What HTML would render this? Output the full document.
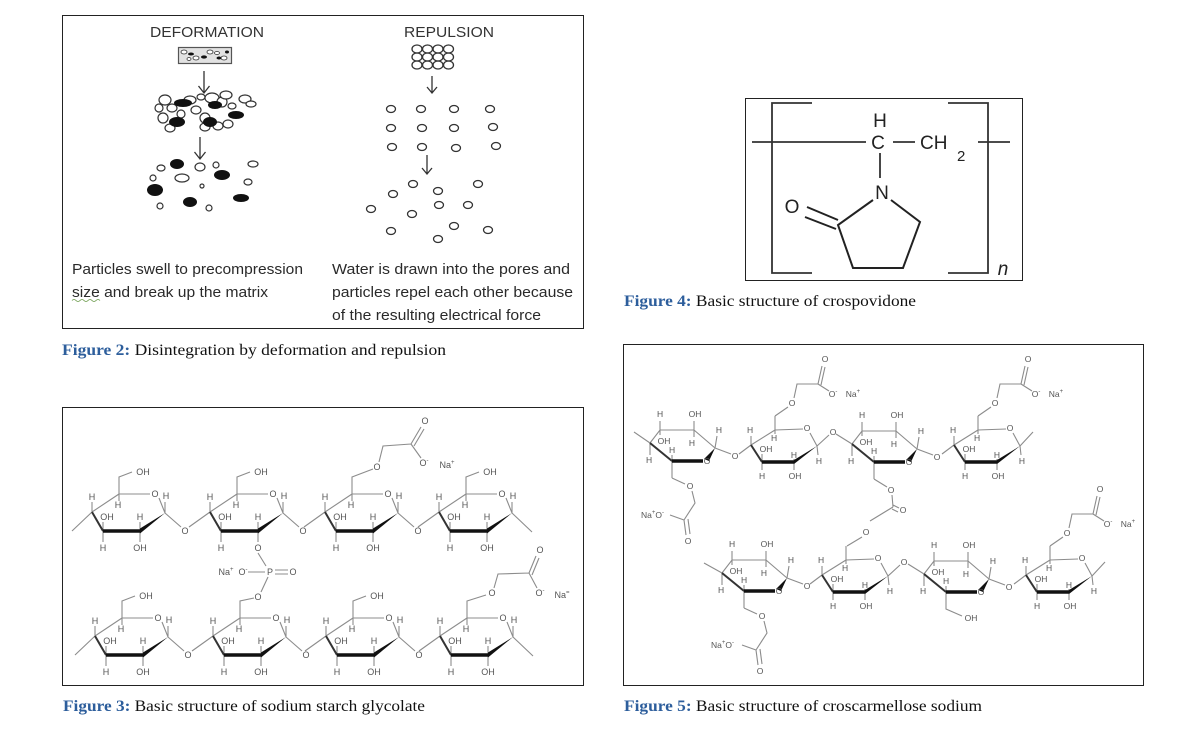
<!DOCTYPE html>
<html><head><meta charset="utf-8"><style>
html,body{margin:0;padding:0;background:#fff;}
svg{display:block;}
.l{stroke:#8c8c8c;stroke-width:1.1;fill:none;}
.b{stroke:#111;stroke-width:3.4;fill:none;}
.b2{stroke:#333;stroke-width:2;fill:none;}
.t{font-family:"Liberation Sans",sans-serif;font-size:9px;fill:#555;text-anchor:middle;}
.f{font-family:"Liberation Sans",sans-serif;font-size:8.5px;fill:#555;text-anchor:middle;}
.s{text-anchor:start;}
.k{stroke:#222;stroke-width:2;fill:none;}
.br{stroke:#333;stroke-width:1.8;fill:none;}
.c{font-family:"Liberation Serif",serif;font-size:15.5px;fill:#111;}
.cb{fill:#2d5e9c;font-weight:bold;}
.bt{font-family:"Liberation Sans",sans-serif;font-size:15px;fill:#2a2a2a;}
.ar{stroke:#333;stroke-width:1.3;fill:none;}
.po{stroke:#333;stroke-width:1.2;fill:#fff;}
.pb{fill:#111;}
.rc{stroke:#333;stroke-width:1.3;fill:none;}
</style></head><body>
<svg width="1183" height="741" viewBox="0 0 1183 741" xmlns="http://www.w3.org/2000/svg">
<!-- ================= FIGURE 2 ================= -->
<rect x="62.5" y="15.5" width="521" height="313" fill="#fff" stroke="#222" stroke-width="1"/>
<text class="bt" x="150" y="37" textLength="114" lengthAdjust="spacingAndGlyphs" style="fill:#333">DEFORMATION</text>
<text class="bt" x="404" y="37" textLength="90" lengthAdjust="spacingAndGlyphs" style="fill:#333">REPULSION</text>
<!-- tablet -->
<rect x="178.5" y="47.5" width="53" height="16" fill="#e2e2e2" stroke="#555" stroke-width="1.2"/>
<g stroke="#333" stroke-width="0.8" fill="#fff">
<ellipse cx="184" cy="52" rx="3" ry="2"/><ellipse cx="196" cy="58" rx="3" ry="2"/><ellipse cx="210" cy="52" rx="3" ry="2"/><ellipse cx="224" cy="58" rx="3" ry="2"/><ellipse cx="189" cy="59" rx="2" ry="1.5"/><ellipse cx="217" cy="53" rx="2.5" ry="1.5"/>
</g>
<g fill="#111"><ellipse cx="191" cy="54" rx="3" ry="1.5"/><ellipse cx="204" cy="57" rx="3" ry="1.6"/><ellipse cx="219" cy="58" rx="2.5" ry="1.5"/><ellipse cx="227" cy="52" rx="2" ry="1.5"/></g>
<!-- arrows deformation -->
<path class="ar" d="M204,71V93M198.5,86L204,93L209.5,86"/>
<path class="ar" d="M200,137V159M194.5,152L200,159L205.5,152"/>
<!-- cluster -->
<g class="po">
<ellipse cx="165" cy="100" rx="6" ry="5"/><ellipse cx="172" cy="108" rx="5" ry="4"/><ellipse cx="163" cy="118" rx="5" ry="5"/><ellipse cx="170" cy="128" rx="5" ry="4"/><ellipse cx="181" cy="114" rx="4" ry="4"/><ellipse cx="190" cy="100" rx="6" ry="4"/><ellipse cx="196" cy="110" rx="5" ry="4"/><ellipse cx="201" cy="97" rx="4" ry="3"/><ellipse cx="205" cy="118" rx="5" ry="5"/><ellipse cx="212" cy="98" rx="7" ry="5"/><ellipse cx="222" cy="102" rx="5" ry="5"/><ellipse cx="218" cy="126" rx="5" ry="4"/><ellipse cx="228" cy="124" rx="5" ry="4"/><ellipse cx="232" cy="106" rx="4" ry="3"/><ellipse cx="245" cy="99" rx="6" ry="4"/><ellipse cx="251" cy="104" rx="5" ry="3"/><ellipse cx="226" cy="95" rx="6" ry="4"/><ellipse cx="205" cy="127" rx="5" ry="4"/><ellipse cx="159" cy="108" rx="4" ry="4"/>
</g>
<g class="pb">
<ellipse cx="183" cy="103" rx="9" ry="4"/><ellipse cx="215" cy="105" rx="7" ry="4"/><ellipse cx="177" cy="122" rx="8" ry="5"/><ellipse cx="210" cy="122" rx="7" ry="5"/><ellipse cx="236" cy="115" rx="8" ry="4"/>
</g>
<!-- scattered -->
<g class="pb">
<ellipse cx="177" cy="164" rx="7" ry="5"/><ellipse cx="222" cy="175" rx="8" ry="5"/><ellipse cx="155" cy="190" rx="8" ry="6"/><ellipse cx="190" cy="202" rx="7" ry="5"/><ellipse cx="241" cy="198" rx="8" ry="4"/>
</g>
<g class="po">
<ellipse cx="161" cy="168" rx="4" ry="3"/><ellipse cx="200" cy="167" rx="5" ry="4"/><ellipse cx="216" cy="165" rx="3" ry="3"/><ellipse cx="253" cy="164" rx="5" ry="3"/><ellipse cx="153" cy="178" rx="3" ry="3"/><ellipse cx="182" cy="178" rx="7" ry="4"/><ellipse cx="248" cy="182" rx="4" ry="3"/><ellipse cx="202" cy="186" rx="2" ry="2"/><ellipse cx="160" cy="206" rx="3" ry="3"/><ellipse cx="209" cy="208" rx="3" ry="3"/>
</g>
<!-- repulsion -->
<g class="rc">
<ellipse cx="417" cy="49" rx="5" ry="4"/><ellipse cx="427.5" cy="49" rx="5" ry="4"/><ellipse cx="438" cy="49" rx="5" ry="4"/><ellipse cx="448.5" cy="49" rx="5" ry="4"/>
<ellipse cx="417" cy="57" rx="5" ry="4"/><ellipse cx="427.5" cy="57" rx="5" ry="4"/><ellipse cx="438" cy="57" rx="5" ry="4"/><ellipse cx="448.5" cy="57" rx="5" ry="4"/>
<ellipse cx="417" cy="65" rx="5" ry="4"/><ellipse cx="427.5" cy="65" rx="5" ry="4"/><ellipse cx="438" cy="65" rx="5" ry="4"/><ellipse cx="448.5" cy="65" rx="5" ry="4"/>
</g>
<path class="ar" d="M432,76V93M427,87L432,93L437,87"/>
<g class="rc">
<ellipse cx="391" cy="109" rx="4.5" ry="3.5"/><ellipse cx="421" cy="109" rx="4.5" ry="3.5"/><ellipse cx="454" cy="109" rx="4.5" ry="3.5"/><ellipse cx="490" cy="109" rx="4.5" ry="3.5"/>
<ellipse cx="391" cy="128" rx="4.5" ry="3.5"/><ellipse cx="422" cy="128" rx="4.5" ry="3.5"/><ellipse cx="454" cy="128" rx="4.5" ry="3.5"/><ellipse cx="493" cy="127" rx="4.5" ry="3.5"/>
<ellipse cx="392" cy="147" rx="4.5" ry="3.5"/><ellipse cx="422" cy="147" rx="4.5" ry="3.5"/><ellipse cx="456" cy="148" rx="4.5" ry="3.5"/><ellipse cx="496" cy="146" rx="4.5" ry="3.5"/>
</g>
<path class="ar" d="M427,155V174M422,168L427,174L432,168"/>
<g class="rc">
<ellipse cx="413" cy="184" rx="4.5" ry="3.5"/><ellipse cx="393" cy="194" rx="4.5" ry="3.5"/><ellipse cx="438" cy="191" rx="4.5" ry="3.5"/><ellipse cx="478" cy="184" rx="4.5" ry="3.5"/><ellipse cx="371" cy="209" rx="4.5" ry="3.5"/><ellipse cx="412" cy="214" rx="4.5" ry="3.5"/><ellipse cx="439" cy="205" rx="4.5" ry="3.5"/><ellipse cx="468" cy="205" rx="4.5" ry="3.5"/><ellipse cx="391" cy="231" rx="4.5" ry="3.5"/><ellipse cx="454" cy="226" rx="4.5" ry="3.5"/><ellipse cx="488" cy="230" rx="4.5" ry="3.5"/><ellipse cx="438" cy="239" rx="4.5" ry="3.5"/>
</g>
<text class="bt" x="72" y="274" textLength="231" lengthAdjust="spacingAndGlyphs">Particles swell to precompression</text>
<text class="bt" x="72" y="297" textLength="196" lengthAdjust="spacingAndGlyphs">size and break up the matrix</text>
<path d="M72,300.5Q74,298.5 76,300.5T80,300.5T84,300.5T88,300.5T92,300.5T96,300.5T100,300.5" stroke="#6a9a4a" stroke-width="0.8" fill="none"/>
<text class="bt" x="332" y="274" textLength="238" lengthAdjust="spacingAndGlyphs">Water is drawn into the pores and</text>
<text class="bt" x="332" y="297" textLength="241" lengthAdjust="spacingAndGlyphs">particles repel each other because</text>
<text class="bt" x="332" y="320" textLength="209" lengthAdjust="spacingAndGlyphs">of the resulting electrical force</text>
<text class="c" x="62" y="355" textLength="384" lengthAdjust="spacingAndGlyphs"><tspan class="cb">Figure 2:</tspan> Disintegration by deformation and repulsion</text>

<!-- ================= FIGURE 4 ================= -->
<rect x="745.5" y="98.5" width="277" height="182" fill="#fff" stroke="#222" stroke-width="1"/>
<path class="br" d="M812,103H772V273H812M948,103H988V273H948"/>
<path class="br" d="M752,142H866M893,142H915M978,142H1010M880,153V178"/>
<g font-family="Liberation Sans, sans-serif" font-size="19" fill="#222">
<text x="880" y="127" text-anchor="middle">H</text>
<text x="878" y="149" text-anchor="middle">C</text>
<text x="920" y="149">CH</text>
<text x="957" y="161" font-size="15">2</text>
<text x="882" y="199" text-anchor="middle">N</text>
<text x="792" y="213" text-anchor="middle">O</text>
<text x="1003" y="275" text-anchor="middle" font-style="italic">n</text>
</g>
<path class="k" d="M873,200L838,225L853,268H903L920,222L891,200M807,207L838,220M805,217L836,229"/>
<text class="c" x="624" y="306" textLength="292" lengthAdjust="spacingAndGlyphs"><tspan class="cb">Figure 4:</tspan> Basic structure of crospovidone</text>

<!-- ================= FIGURE 3 ================= -->
<rect x="62.5" y="407.5" width="521" height="278" fill="#fff" stroke="#222" stroke-width="1"/>
<!-- T1 -->
<g transform="translate(119,494)">
<path class="l" d="M0,0H31M40,4L46,19M0,0L-27,18M-27,18V8M0,0V7M-16,37V28M-16,37V48M21,37V28M21,37V48M46,19V8M-27,18L-47,37M46,19L62,33M0,0V-17L13,-22"/>
<path class="b2" d="M-27,18L-16,37"/><path class="b" d="M-16,37H21"/><polygon points="46,19 21,34.5 21,39.5" fill="#111"/>
<text class="t" x="36" y="3">O</text><text class="t" x="-27" y="6">H</text><text class="t" x="-1" y="14">H</text><text class="t" x="-12" y="26">OH</text><text class="t" x="-16" y="57">H</text><text class="t" x="21" y="26">H</text><text class="t" x="21" y="57">OH</text><text class="t" x="47" y="5">H</text><text class="t" x="66" y="40">O</text><text class="t" x="24" y="-19">OH</text>
</g>
<!-- T2 -->
<g transform="translate(237,494)">
<path class="l" d="M0,0H31M40,4L46,19M0,0L-27,18M-27,18V8M0,0V7M-16,37V28M-16,37V48M21,37V28M21,37V48M46,19V8M-27,18L-48,33M46,19L62,33M0,0V-17L13,-22"/>
<path class="b2" d="M-27,18L-16,37"/><path class="b" d="M-16,37H21"/><polygon points="46,19 21,34.5 21,39.5" fill="#111"/>
<text class="t" x="36" y="3">O</text><text class="t" x="-27" y="6">H</text><text class="t" x="-1" y="14">H</text><text class="t" x="-12" y="26">OH</text><text class="t" x="-16" y="57">H</text><text class="t" x="21" y="26">H</text><text class="t" x="21" y="57">O</text><text class="t" x="47" y="5">H</text><text class="t" x="66" y="40">O</text><text class="t" x="24" y="-19">OH</text>
</g>
<!-- T3 -->
<g transform="translate(352,494)">
<path class="l" d="M0,0H31M40,4L46,19M0,0L-27,18M-27,18V8M0,0V7M-16,37V28M-16,37V48M21,37V28M21,37V48M46,19V8M-27,18L-48,33M46,19L62,33M0,0V-17L21,-25"/>
<path class="b2" d="M-27,18L-16,37"/><path class="b" d="M-16,37H21"/><polygon points="46,19 21,34.5 21,39.5" fill="#111"/>
<text class="t" x="36" y="3">O</text><text class="t" x="-27" y="6">H</text><text class="t" x="-1" y="14">H</text><text class="t" x="-12" y="26">OH</text><text class="t" x="-16" y="57">H</text><text class="t" x="21" y="26">H</text><text class="t" x="21" y="57">OH</text><text class="t" x="47" y="5">H</text><text class="t" x="66" y="40">O</text>
</g>
<!-- T4 -->
<g transform="translate(466,494)">
<path class="l" d="M0,0H31M40,4L46,19M0,0L-27,18M-27,18V8M0,0V7M-16,37V28M-16,37V48M21,37V28M21,37V48M46,19V8M-27,18L-48,33M46,19L66,38M0,0V-17L13,-22"/>
<path class="b2" d="M-27,18L-16,37"/><path class="b" d="M-16,37H21"/><polygon points="46,19 21,34.5 21,39.5" fill="#111"/>
<text class="t" x="36" y="3">O</text><text class="t" x="-27" y="6">H</text><text class="t" x="-1" y="14">H</text><text class="t" x="-12" y="26">OH</text><text class="t" x="-16" y="57">H</text><text class="t" x="21" y="26">H</text><text class="t" x="21" y="57">OH</text><text class="t" x="47" y="5">H</text><text class="t" x="24" y="-19">OH</text>
</g>
<!-- B1 -->
<g transform="translate(122,618)">
<path class="l" d="M0,0H31M40,4L46,19M0,0L-27,18M-27,18V8M0,0V7M-16,37V28M-16,37V48M21,37V28M21,37V48M46,19V8M-27,18L-47,37M46,19L62,33M0,0V-17L13,-22"/>
<path class="b2" d="M-27,18L-16,37"/><path class="b" d="M-16,37H21"/><polygon points="46,19 21,34.5 21,39.5" fill="#111"/>
<text class="t" x="36" y="3">O</text><text class="t" x="-27" y="6">H</text><text class="t" x="-1" y="14">H</text><text class="t" x="-12" y="26">OH</text><text class="t" x="-16" y="57">H</text><text class="t" x="21" y="26">H</text><text class="t" x="21" y="57">OH</text><text class="t" x="47" y="5">H</text><text class="t" x="66" y="40">O</text><text class="t" x="24" y="-19">OH</text>
</g>
<!-- B2 -->
<g transform="translate(240,618)">
<path class="l" d="M0,0H31M40,4L46,19M0,0L-27,18M-27,18V8M0,0V7M-16,37V28M-16,37V48M21,37V28M21,37V48M46,19V8M-27,18L-48,33M46,19L62,33M0,0V-17L14,-20"/>
<path class="b2" d="M-27,18L-16,37"/><path class="b" d="M-16,37H21"/><polygon points="46,19 21,34.5 21,39.5" fill="#111"/>
<text class="t" x="36" y="3">O</text><text class="t" x="-27" y="6">H</text><text class="t" x="-1" y="14">H</text><text class="t" x="-12" y="26">OH</text><text class="t" x="-16" y="57">H</text><text class="t" x="21" y="26">H</text><text class="t" x="21" y="57">OH</text><text class="t" x="47" y="5">H</text><text class="t" x="66" y="40">O</text>
</g>
<!-- B3 -->
<g transform="translate(353,618)">
<path class="l" d="M0,0H31M40,4L46,19M0,0L-27,18M-27,18V8M0,0V7M-16,37V28M-16,37V48M21,37V28M21,37V48M46,19V8M-27,18L-48,33M46,19L62,33M0,0V-17L13,-22"/>
<path class="b2" d="M-27,18L-16,37"/><path class="b" d="M-16,37H21"/><polygon points="46,19 21,34.5 21,39.5" fill="#111"/>
<text class="t" x="36" y="3">O</text><text class="t" x="-27" y="6">H</text><text class="t" x="-1" y="14">H</text><text class="t" x="-12" y="26">OH</text><text class="t" x="-16" y="57">H</text><text class="t" x="21" y="26">H</text><text class="t" x="21" y="57">OH</text><text class="t" x="47" y="5">H</text><text class="t" x="66" y="40">O</text><text class="t" x="24" y="-19">OH</text>
</g>
<!-- B4 -->
<g transform="translate(467,618)">
<path class="l" d="M0,0H31M40,4L46,19M0,0L-27,18M-27,18V8M0,0V7M-16,37V28M-16,37V48M21,37V28M21,37V48M46,19V8M-27,18L-48,33M46,19L66,38M0,0V-17L19,-23"/>
<path class="b2" d="M-27,18L-16,37"/><path class="b" d="M-16,37H21"/><polygon points="46,19 21,34.5 21,39.5" fill="#111"/>
<text class="t" x="36" y="3">O</text><text class="t" x="-27" y="6">H</text><text class="t" x="-1" y="14">H</text><text class="t" x="-12" y="26">OH</text><text class="t" x="-16" y="57">H</text><text class="t" x="21" y="26">H</text><text class="t" x="21" y="57">OH</text><text class="t" x="47" y="5">H</text>
</g>
<!-- fig3 substituents -->
<path class="l" d="M379,462L383,446L411,444M411,444L421,427M414,446L424,429M411,444L421,458"/>
<text class="t" x="377" y="470">O</text><text class="t" x="425" y="424">O</text>
<text class="t" x="424" y="466">O<tspan font-size="6" dy="-4">-</tspan></text>
<text class="t" x="447" y="468">Na<tspan font-size="6" dy="-4">+</tspan></text>
<path class="l" d="M494,588L498,574L529,573M529,573L536,556M532,575L539,558M529,573L537,588"/>
<text class="t" x="492" y="596">O</text><text class="t" x="540" y="553">O</text>
<text class="t" x="540" y="596">O<tspan font-size="6" dy="-4">-</tspan></text>
<text class="t" x="562" y="598">Na<tspan font-size="6" dy="-4">=</tspan></text>
<path class="l" d="M258,553L266,566M248,572H265M275,570H288M275,574H288M268,577L261,592"/>
<text class="t" x="270" y="575">P</text><text class="t" x="293" y="575">O</text>
<text class="t" x="243" y="575">O<tspan font-size="6" dy="-4">-</tspan></text>
<text class="t" x="226" y="575">Na<tspan font-size="6" dy="-4">+</tspan></text>
<text class="t" x="258" y="600">O</text>
<text class="c" x="63" y="711" textLength="362" lengthAdjust="spacingAndGlyphs"><tspan class="cb">Figure 3:</tspan> Basic structure of sodium starch glycolate</text>

<!-- ================= FIGURE 5 ================= -->
<rect x="623.5" y="344.5" width="520" height="341" fill="#fff" stroke="#222" stroke-width="1"/>
<!-- A -->
<g transform="translate(672,461)">
<path class="l" d="M-22,-18L-12,-31H22L43,-13M-12,-31V-40M22,-31V-40M-12,-31V-26M22,-31V-24M43,-13L45,-25M-22,-18V-6M0,0V-6M43,-13L59,-7M0,0V17M-22,-18L-38,-29"/>
<path class="b2" d="M-22,-18L0,0"/><path class="b" d="M0,0H31"/><polygon points="43,-13 32,-2 37,0" fill="#111"/>
<text class="f" x="-12" y="-44">H</text><text class="f" x="23" y="-44">OH</text><text class="f" x="-8" y="-17">OH</text><text class="f" x="20" y="-15">H</text><text class="f" x="47" y="-28">H</text><text class="f" x="-23" y="2">H</text><text class="f" x="0" y="-8">H</text><text class="f" x="35" y="3">O</text><text class="f" x="63" y="-2">O</text>
</g>
<!-- B -->
<g transform="translate(775,430)">
<path class="l" d="M0,0L28,-1M35,3L42,16M0,0L-24,15M-24,15V6M0,0V4M-13,32V24M-13,32V40M19,32V29M19,32V40M42,16L43,25M-24,15L-36,24M0,0V-14M42,16L54,5"/>
<path class="b2" d="M-24,15L-13,32"/><path class="b" d="M-13,32H19"/><polygon points="42,16 19,30 19,34" fill="#111"/>
<text class="f" x="32" y="1">O</text><text class="f" x="-25" y="3">H</text><text class="f" x="-1" y="11">H</text><text class="f" x="-9" y="22">OH</text><text class="f" x="-13" y="49">H</text><text class="f" x="19" y="28">H</text><text class="f" x="20" y="49">OH</text><text class="f" x="44" y="34">H</text><text class="f" x="58" y="5">O</text>
</g>
<!-- C -->
<g transform="translate(874,462)">
<path class="l" d="M-22,-18L-12,-31H22L43,-13M-12,-31V-40M22,-31V-40M-12,-31V-26M22,-31V-24M43,-13L45,-25M-22,-18V-6M0,0V-6M43,-13L59,-7M0,0V17M-22,-18L-38,-28"/>
<path class="b2" d="M-22,-18L0,0"/><path class="b" d="M0,0H31"/><polygon points="43,-13 32,-2 37,0" fill="#111"/>
<text class="f" x="-12" y="-44">H</text><text class="f" x="23" y="-44">OH</text><text class="f" x="-8" y="-17">OH</text><text class="f" x="20" y="-15">H</text><text class="f" x="47" y="-28">H</text><text class="f" x="-23" y="2">H</text><text class="f" x="0" y="-8">H</text><text class="f" x="35" y="3">O</text><text class="f" x="63" y="-2">O</text>
</g>
<!-- D -->
<g transform="translate(978,430)">
<path class="l" d="M0,0L28,-1M35,3L42,16M0,0L-24,15M-24,15V6M0,0V4M-13,32V24M-13,32V40M19,32V29M19,32V40M42,16L43,25M-24,15L-36,24M0,0V-14M42,16L55,2"/>
<path class="b2" d="M-24,15L-13,32"/><path class="b" d="M-13,32H19"/><polygon points="42,16 19,30 19,34" fill="#111"/>
<text class="f" x="32" y="1">O</text><text class="f" x="-25" y="3">H</text><text class="f" x="-1" y="11">H</text><text class="f" x="-9" y="22">OH</text><text class="f" x="-13" y="49">H</text><text class="f" x="19" y="28">H</text><text class="f" x="20" y="49">OH</text><text class="f" x="44" y="34">H</text>
</g>
<!-- E -->
<g transform="translate(744,591)">
<path class="l" d="M-22,-18L-12,-31H22L43,-13M-12,-31V-40M22,-31V-40M-12,-31V-26M22,-31V-24M43,-13L45,-25M-22,-18V-6M0,0V-6M43,-13L59,-7M0,0V17M-22,-18L-40,-28"/>
<path class="b2" d="M-22,-18L0,0"/><path class="b" d="M0,0H31"/><polygon points="43,-13 32,-2 37,0" fill="#111"/>
<text class="f" x="-12" y="-44">H</text><text class="f" x="23" y="-44">OH</text><text class="f" x="-8" y="-17">OH</text><text class="f" x="20" y="-15">H</text><text class="f" x="47" y="-28">H</text><text class="f" x="-23" y="2">H</text><text class="f" x="0" y="-8">H</text><text class="f" x="35" y="3">O</text><text class="f" x="63" y="-2">O</text>
</g>
<!-- F -->
<g transform="translate(846,560)">
<path class="l" d="M0,0L28,-1M35,3L42,16M0,0L-24,15M-24,15V6M0,0V4M-13,32V24M-13,32V40M19,32V29M19,32V40M42,16L43,25M-24,15L-36,24M0,0V-14M42,16L54,5"/>
<path class="b2" d="M-24,15L-13,32"/><path class="b" d="M-13,32H19"/><polygon points="42,16 19,30 19,34" fill="#111"/>
<text class="f" x="32" y="1">O</text><text class="f" x="-25" y="3">H</text><text class="f" x="-1" y="11">H</text><text class="f" x="-9" y="22">OH</text><text class="f" x="-13" y="49">H</text><text class="f" x="19" y="28">H</text><text class="f" x="20" y="49">OH</text><text class="f" x="44" y="34">H</text><text class="f" x="58" y="5">O</text>
</g>
<!-- G -->
<g transform="translate(946,592)">
<path class="l" d="M-22,-18L-12,-31H22L43,-13M-12,-31V-40M22,-31V-40M-12,-31V-26M22,-31V-24M43,-13L45,-25M-22,-18V-6M0,0V-6M43,-13L59,-7M0,0V17L16,24M-22,-18L-38,-28"/>
<path class="b2" d="M-22,-18L0,0"/><path class="b" d="M0,0H31"/><polygon points="43,-13 32,-2 37,0" fill="#111"/>
<text class="f" x="-12" y="-44">H</text><text class="f" x="23" y="-44">OH</text><text class="f" x="-8" y="-17">OH</text><text class="f" x="20" y="-15">H</text><text class="f" x="47" y="-28">H</text><text class="f" x="-23" y="2">H</text><text class="f" x="0" y="-8">H</text><text class="f" x="35" y="3">O</text><text class="f" x="63" y="-2">O</text><text class="f" x="25" y="29">OH</text>
</g>
<!-- H -->
<g transform="translate(1050,560)">
<path class="l" d="M0,0L28,-1M35,3L42,16M0,0L-24,15M-24,15V6M0,0V4M-13,32V24M-13,32V40M19,32V29M19,32V40M42,16L43,25M-24,15L-36,24M0,0V-14M42,16L55,2"/>
<path class="b2" d="M-24,15L-13,32"/><path class="b" d="M-13,32H19"/><polygon points="42,16 19,30 19,34" fill="#111"/>
<text class="f" x="32" y="1">O</text><text class="f" x="-25" y="3">H</text><text class="f" x="-1" y="11">H</text><text class="f" x="-9" y="22">OH</text><text class="f" x="-13" y="49">H</text><text class="f" x="19" y="28">H</text><text class="f" x="20" y="49">OH</text><text class="f" x="44" y="34">H</text>
</g>
<!-- fig5 carboxymethyl groups -->
<path class="l" d="M672,478L685,484M692,491L695,503L684,520M684,520L686,535M688,519L690,534M684,520L670,515"/>
<text class="f" x="690" y="489">O</text><text class="f" x="688" y="544">O</text>
<text class="f s" x="641" y="518">Na<tspan font-size="6" dy="-4">+</tspan><tspan dy="4">O</tspan><tspan font-size="6" dy="-4">-</tspan></text>
<path class="l" d="M744,608L757,614M764,621L767,633L756,650M756,650L758,665M760,649L762,664M756,650L742,645"/>
<text class="f" x="762" y="619">O</text><text class="f" x="760" y="674">O</text>
<text class="f s" x="711" y="648">Na<tspan font-size="6" dy="-4">+</tspan><tspan dy="4">O</tspan><tspan font-size="6" dy="-4">-</tspan></text>
<path class="l" d="M775,416L788,407M794,398L797,384H818M818,384L822,366M821,385L825,367M818,384L829,391"/>
<text class="f" x="792" y="406">O</text><text class="f" x="825" y="362">O</text>
<text class="f" x="833" y="397">O<tspan font-size="6" dy="-4">-</tspan></text><text class="f" x="853" y="397">Na<tspan font-size="6" dy="-4">+</tspan></text>
<path class="l" d="M978,416L991,407M997,398L1000,384H1021M1021,384L1025,366M1024,385L1028,367M1021,384L1032,391"/>
<text class="f" x="995" y="406">O</text><text class="f" x="1028" y="362">O</text>
<text class="f" x="1036" y="397">O<tspan font-size="6" dy="-4">-</tspan></text><text class="f" x="1056" y="397">Na<tspan font-size="6" dy="-4">+</tspan></text>
<path class="l" d="M1050,546L1063,537M1069,528L1072,514H1093M1093,514L1097,496M1096,515L1100,497M1093,514L1104,521"/>
<text class="f" x="1067" y="536">O</text><text class="f" x="1100" y="492">O</text>
<text class="f" x="1108" y="527">O<tspan font-size="6" dy="-4">-</tspan></text><text class="f" x="1128" y="527">Na<tspan font-size="6" dy="-4">+</tspan></text>
<!-- crosslink -->
<path class="l" d="M874,479L887,487M892,495L893,507M893,505L899,508M892,509L898,512M893,507L870,521M862,537L847,546"/>
<text class="f" x="891" y="493">O</text><text class="f" x="903" y="513">O</text><text class="f" x="866" y="535">O</text>
<text class="c" x="624" y="711" textLength="358" lengthAdjust="spacingAndGlyphs"><tspan class="cb">Figure 5:</tspan> Basic structure of croscarmellose sodium</text>
</svg>
</body></html>
